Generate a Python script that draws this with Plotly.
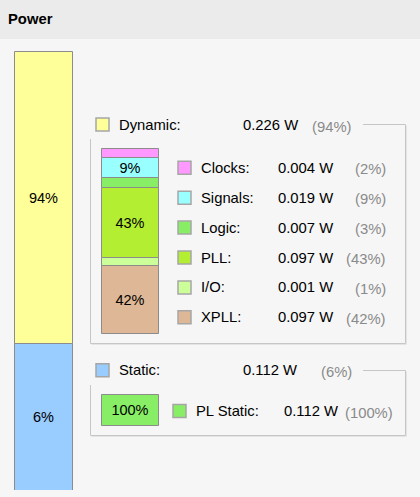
import plotly.graph_objects as go

# ---------------- data ----------------
title = "Power"
main_names = ["Dynamic", "Static"]
main_watts = [0.226, 0.112]
main_pct = [94, 6]
main_colors = ["#ffff99", "#99ccff"]

dyn_names = ["Clocks", "Signals", "Logic", "PLL", "I/O", "XPLL"]
dyn_watts = [0.004, 0.019, 0.007, 0.097, 0.001, 0.097]
dyn_pct = [2, 9, 3, 43, 1, 42]
dyn_colors = ["#ff99ff", "#99ffff", "#88ee66", "#b3ee33", "#ccff99", "#deb896"]

stat_names = ["PL Static"]
stat_watts = [0.112]
stat_pct = [100]
stat_colors = ["#88ee66"]

# ---------------- style / layout ----------------
W, H = 420, 497
BG = "#f6f6f6"
HEADER = "#ebebeb"
FONT = "Liberation Sans, Arial, sans-serif"
FS = 14.8
GRAY_TXT = "#8a8a8a"
EDGE = "#8c8c8c"
PANEL = "#c6c6c6"
PANEL2 = "#e4e4e4"

fig = go.Figure()


def stacked(x, width, top, total_px, pcts, colors, pad, show_min):
    units = [p + pad for p in pcts]
    scale = total_px / sum(units)
    base = top
    for p, c, u in zip(pcts, colors, units):
        h = u * scale
        fig.add_trace(go.Bar(
            x=[x], y=[h], base=[base], width=[width],
            marker=dict(color=c, line=dict(color=EDGE, width=1)),
            text=[f"{p}%" if p >= show_min else ""],
            textposition="inside", insidetextanchor="middle",
            textangle=0, constraintext="none",
            insidetextfont=dict(family=FONT, size=14.5, color="#000000"),
            hoverinfo="skip", showlegend=False,
        ))
        base += h


# main bar (clipped at bottom like the reference)
stacked(44, 58, 52, 439, main_pct, main_colors, 83, 5)
# dynamic breakdown bar
stacked(130.8, 57, 149.3, 185, dyn_pct, dyn_colors, 4, 5)
# static breakdown bar
stacked(130.8, 57, 395.3, 30.7, stat_pct, stat_colors, 0, 5)

# legend swatches
sw_x, sw_y, sw_c = [], [], []
sw_x += [102.5, 102.5]; sw_y += [124.5, 370.3]; sw_c += main_colors
row_y = [167.8 + 29.9 * i for i in range(len(dyn_names))]
sw_x += [184.5] * len(dyn_names); sw_y += row_y; sw_c += dyn_colors
sw_x += [179.5]; sw_y += [411]; sw_c += stat_colors
fig.add_trace(go.Scatter(
    x=sw_x, y=sw_y, mode="markers",
    marker=dict(symbol="square", size=13, color=sw_c,
                line=dict(color="#a6a6a6", width=1.5)),
    hoverinfo="skip", showlegend=False,
))

ann = []


def txt(x, y, s, anchor="left", color="#000000", size=FS, bold=False):
    ann.append(dict(x=x, y=y, xref="x", yref="y", text=f"<b>{s}</b>" if bold else s,
                    showarrow=False, xanchor=anchor, yanchor="middle", borderpad=0,
                    font=dict(family=FONT, size=size, color=color)))


txt(6.5, 19, title, bold=True, size=14.8)

main_y = [124.5, 370.3]
for n, w, p, y in zip(main_names, main_watts, main_pct, main_y):
    txt(117.5, y, f"{n}:")
    txt(241.5, y, f"{w:.3f} W")
    txt(352.5, y + 2, f"({p}%)", anchor="right", color=GRAY_TXT)

for n, w, p, y in zip(dyn_names, dyn_watts, dyn_pct, row_y):
    txt(200, y, f"{n}:")
    txt(276.8, y, f"{w:.3f} W")
    txt(387, y + 1.5, f"({p}%)", anchor="right", color=GRAY_TXT)

for n, w, p in zip(stat_names, stat_watts, stat_pct):
    txt(195, 411, f"{n}:")
    txt(282.8, 411, f"{w:.3f} W")
    txt(393.5, 412.5, f"({p}%)", anchor="right", color=GRAY_TXT)

shapes = [dict(type="rect", xref="paper", yref="paper", x0=0, x1=1,
               y0=1 - 39 / H, y1=1, fillcolor=HEADER, line=dict(width=0), layer="below")]


def panel(x0, x1, ytop, yleft, ybot, xline):
    segs = [
        (xline, ytop, x1, ytop),
        (x1, ytop, x1, ybot),
        (x0, ybot, x1, ybot),
        (x0, yleft, x0, ybot),
    ]
    for a, b, c, d in segs:
        shapes.append(dict(type="line", xref="x", yref="y", x0=a, y0=b, x1=c, y1=d,
                           line=dict(color=PANEL, width=1)))
    shapes.append(dict(type="line", xref="x", yref="y", x0=x1 + 1, y0=ytop + 1, x1=x1 + 1, y1=ybot + 1,
                       line=dict(color=PANEL2, width=1)))
    shapes.append(dict(type="line", xref="x", yref="y", x0=x0 + 1, y0=ybot + 1, x1=x1 + 1, y1=ybot + 1,
                       line=dict(color=PANEL2, width=1)))


panel(90.5, 405.5, 124.5, 139, 343.5, 363)
panel(90.5, 405.5, 370.5, 385, 435.5, 363)

PLOT_H = 490
fig.update_layout(
    width=W, height=H,
    margin=dict(l=0, r=0, t=0, b=0, pad=0),
    paper_bgcolor=BG, plot_bgcolor="rgba(0,0,0,0)",
    barmode="overlay", bargap=0,
    xaxis=dict(range=[0, W], visible=False, fixedrange=True, domain=[0, 1]),
    yaxis=dict(range=[PLOT_H, 0], visible=False, fixedrange=True,
               domain=[1 - PLOT_H / H, 1]),
    annotations=ann, shapes=shapes,
    showlegend=False,
)

fig.write_html("out.html", config={"displayModeBar": False})
